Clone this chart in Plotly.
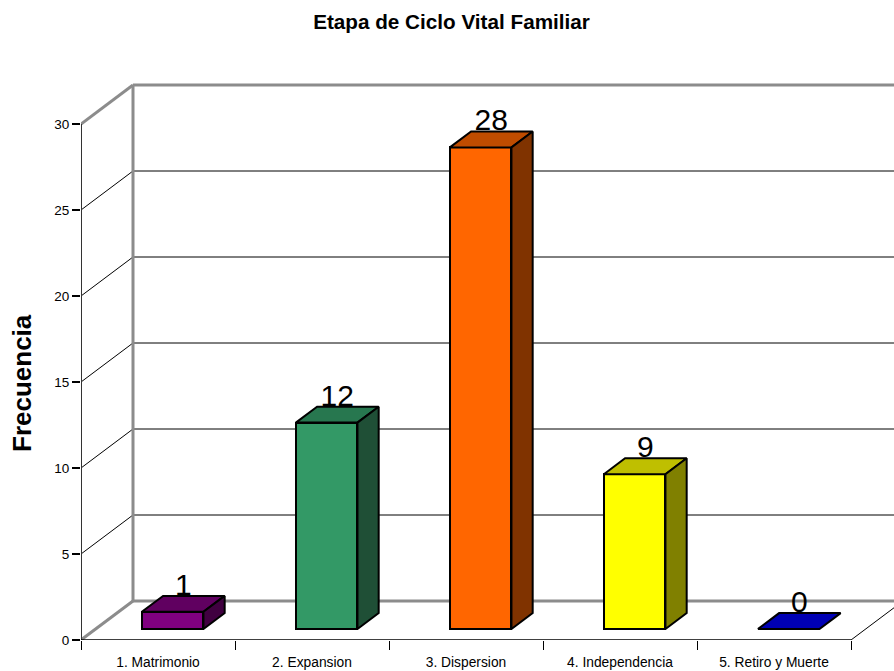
import plotly.graph_objects as go

# Data
categories = ["1. Matrimonio", "2. Expansion", "3. Dispersion",
              "4. Independencia", "5. Retiro y Muerte"]
values = [1, 12, 28, 9, 0]
y_ticks = [0, 5, 10, 15, 20, 25, 30]

# Face colours: front, top (shaded), side (darker)
front_colors = ["#800080", "#339966", "#ff6600", "#ffff00", "#0000ff"]
top_colors = ["#600060", "#27774f", "#bf4c00", "#bfbf00", "#0000b4"]
side_colors = ["#400040", "#1f4f36", "#803300", "#808000", "#000080"]

# Oblique projection of the depth axis (x units per depth, y units per depth)
DX = 52 / 154
DY = 39 / 17.2
D0, D1 = 0.282, 0.69        # front / back depth of the columns
HALF_W = 0.2                # half column width in category units

GRAY = "#8c8c8c"
FONT = "Arial, Liberation Sans, sans-serif"

n = len(categories)
centers = [i + 0.5 for i in range(n)]
y_max = max(y_ticks)

fig = go.Figure()

# Front faces of the columns
fig.add_trace(go.Bar(
    x=[c + D0 * DX for c in centers],
    y=values,
    base=D0 * DY,
    width=2 * HALF_W,
    marker=dict(color=front_colors, line=dict(color="black", width=2)),
    hoverinfo="skip",
    showlegend=False,
))

# Top and side faces
for c, v, tc, sc in zip(centers, values, top_colors, side_colors):
    xl, xr = c - HALF_W, c + HALF_W
    top_x = [xl + D0 * DX, xr + D0 * DX, xr + D1 * DX, xl + D1 * DX, xl + D0 * DX]
    top_y = [v + D0 * DY, v + D0 * DY, v + D1 * DY, v + D1 * DY, v + D0 * DY]
    fig.add_trace(go.Scatter(
        x=top_x, y=top_y, mode="lines", fill="toself", fillcolor=tc,
        line=dict(color="black", width=2), hoverinfo="skip", showlegend=False,
    ))
    if v > 0:
        side_x = [xr + D0 * DX, xr + D0 * DX, xr + D1 * DX, xr + D1 * DX, xr + D0 * DX]
        side_y = [D0 * DY, v + D0 * DY, v + D1 * DY, D1 * DY, D0 * DY]
        fig.add_trace(go.Scatter(
            x=side_x, y=side_y, mode="lines", fill="toself", fillcolor=sc,
            line=dict(color="black", width=2), hoverinfo="skip", showlegend=False,
        ))

# Value labels above each column
fig.add_trace(go.Scatter(
    x=[c + (D0 + D1) / 2 * DX for c in centers],
    y=[v + D1 * DY + 0.5 for v in values],
    mode="text",
    text=[str(v) for v in values],
    textposition="middle center",
    textfont=dict(family=FONT, size=30, color="black"),
    hoverinfo="skip", showlegend=False,
))

# Walls, floor and gridlines
shapes = []


def seg(x0, y0, x1, y1, color, width):
    shapes.append(dict(type="line", xref="x", yref="y", x0=x0, y0=y0,
                       x1=x1, y1=y1, layer="below",
                       line=dict(color=color, width=width)))


for t in y_ticks:
    edge = t in (0, y_max)
    col = GRAY if edge else "black"
    w = 3 if edge else 1
    # side wall
    seg(0, t, DX, t + DY, col, w)
    # back wall
    seg(DX, t + DY, n + DX, t + DY, col, w)

seg(DX, DY, DX, y_max + DY, GRAY, 3)          # back-left vertical edge
seg(n + DX, DY, n + DX, y_max + DY, GRAY, 3)  # back-right vertical edge
seg(n, 0, n + DX, DY, "black", 1)             # floor right edge
seg(0, 0, 0, y_max, "#333333", 2)             # value axis line
seg(0, 0, n, 0, "black", 1.5)                 # category axis line

# Axis title
annotations = [dict(
    text="<b>Frecuencia</b>", xref="paper", yref="paper",
    x=(22 - 81) / 813, y=(640 - 383) / 580, xanchor="center", yanchor="middle",
    textangle=-90, showarrow=False,
    font=dict(family=FONT, size=26, color="black"),
)]

fig.update_layout(
    width=894, height=671,
    margin=dict(l=81, r=0, t=60, b=31, pad=0),
    paper_bgcolor="white", plot_bgcolor="white",
    shapes=shapes, annotations=annotations,
    showlegend=False,
    title=dict(text="<b>Etapa de Ciclo Vital Familiar</b>",
               x=(451.5) / 894, xanchor="center", xref="container",
               y=1 - 22 / 671, yanchor="middle", yref="container",
               font=dict(family=FONT, size=20.7, color="black")),
    xaxis=dict(
        range=[0, 813 / 154], showgrid=False, zeroline=False, showline=False,
        tickmode="array", tickvals=centers, ticktext=categories, ticks="",
        ticklabelstandoff=12,
        tickfont=dict(family=FONT, size=13.8, color="black"),
        minor=dict(tickmode="array", tickvals=list(range(n + 1)),
                   ticks="outside", ticklen=9, tickcolor="black", tickwidth=1,
                   showgrid=False),
        fixedrange=True,
    ),
    yaxis=dict(
        range=[0, 580 / 17.2], showgrid=False, zeroline=False, showline=False,
        tickmode="array", tickvals=y_ticks, ticks="outside", ticklen=8,
        tickcolor="black", tickwidth=1.5,
        tickfont=dict(family=FONT, size=13.5, color="black"),
        fixedrange=True,
    ),
    bargap=0,
)

fig.write_html("out.html")
